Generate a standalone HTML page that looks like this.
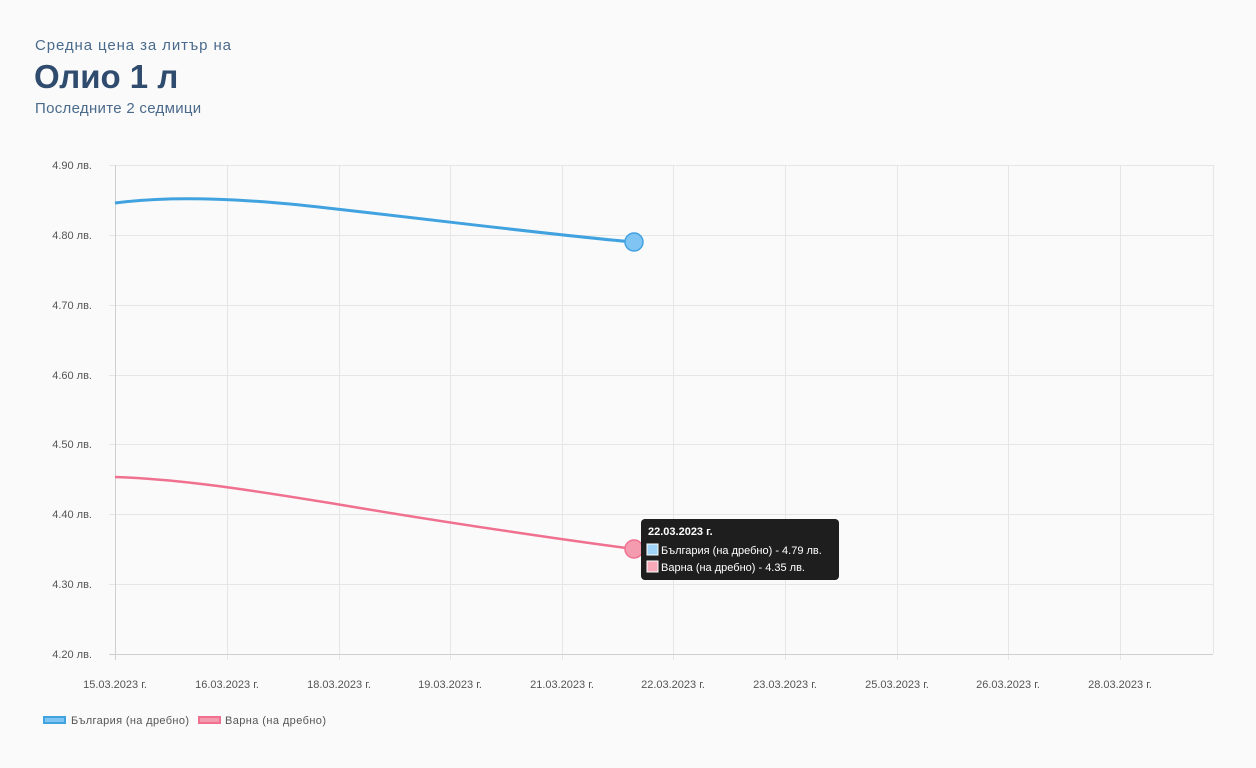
<!DOCTYPE html>
<html><head><meta charset="utf-8"><style>
body{margin:0;background:#fafafa;width:1256px;height:768px;overflow:hidden;font-family:"Liberation Sans","DejaVu Sans",sans-serif}
.h1{position:absolute;left:35px;top:37px;font-size:15px;letter-spacing:0.9px;color:#4a6a8c}
.h2{position:absolute;left:34px;top:58px;font-size:33px;font-weight:bold;color:#2f4b6e}
.h3{position:absolute;left:35px;top:100px;font-size:15px;letter-spacing:0.3px;color:#4a6a8c}
</style></head><body>
<div class="h1">Средна цена за литър на</div>
<div class="h2">Олио 1 л</div>
<div class="h3">Последните 2 седмици</div>
<svg width="1256" height="768" style="position:absolute;left:0;top:0" font-family="Liberation Sans, sans-serif">
<g stroke="#e6e6e6" stroke-width="1">
<line x1="109" y1="165.5" x2="1213" y2="165.5"/><line x1="109" y1="235.5" x2="1213" y2="235.5"/>
<line x1="109" y1="305.5" x2="1213" y2="305.5"/><line x1="109" y1="375.5" x2="1213" y2="375.5"/>
<line x1="109" y1="444.5" x2="1213" y2="444.5"/><line x1="109" y1="514.5" x2="1213" y2="514.5"/>
<line x1="109" y1="584.5" x2="1213" y2="584.5"/>
<line x1="227.5" y1="165" x2="227.5" y2="660"/><line x1="339.5" y1="165" x2="339.5" y2="660"/>
<line x1="450.5" y1="165" x2="450.5" y2="660"/><line x1="562.5" y1="165" x2="562.5" y2="660"/>
<line x1="673.5" y1="165" x2="673.5" y2="660"/><line x1="785.5" y1="165" x2="785.5" y2="660"/>
<line x1="897.5" y1="165" x2="897.5" y2="660"/><line x1="1008.5" y1="165" x2="1008.5" y2="660"/>
<line x1="1120.5" y1="165" x2="1120.5" y2="660"/><line x1="1213.5" y1="165" x2="1213.5" y2="654"/>
</g>
<line x1="115.5" y1="165" x2="115.5" y2="660" stroke="#cfcfcf"/>
<line x1="109" y1="654.5" x2="1213" y2="654.5" stroke="#cfcfcf"/>
<g font-size="11" fill="#555" text-anchor="end">
<text x="92" y="169">4.90 лв.</text><text x="92" y="239">4.80 лв.</text><text x="92" y="309">4.70 лв.</text>
<text x="92" y="379">4.60 лв.</text><text x="92" y="448">4.50 лв.</text><text x="92" y="518">4.40 лв.</text>
<text x="92" y="588">4.30 лв.</text><text x="92" y="658">4.20 лв.</text>
</g>
<g font-size="11" fill="#555" text-anchor="middle">
<text x="115" y="688">15.03.2023 г.</text><text x="227" y="688">16.03.2023 г.</text><text x="339" y="688">18.03.2023 г.</text>
<text x="450" y="688">19.03.2023 г.</text><text x="562" y="688">21.03.2023 г.</text><text x="673" y="688">22.03.2023 г.</text>
<text x="785" y="688">23.03.2023 г.</text><text x="897" y="688">25.03.2023 г.</text><text x="1008" y="688">26.03.2023 г.</text>
<text x="1120" y="688">28.03.2023 г.</text>
</g>
<path d="M115,203 C160,197 220,197 300,205 C420,218 560,236 634,242" fill="none" stroke="#41a2e0" stroke-width="3"/>
<path d="M115,477 C180,479 250,490 330,503 C460,525 580,542 634,549" fill="none" stroke="#f0708f" stroke-width="2.5"/>
<circle cx="634" cy="242" r="9" fill="#7fc4f2" stroke="#41a2e0" stroke-width="1.5"/>
<circle cx="634" cy="549" r="9" fill="#f59bb0" stroke="#f0708f" stroke-width="1.5"/>
<path d="M641,549 l6,-5 v10 z" fill="#1e1e1e"/>
<rect x="641" y="519" width="198" height="61" rx="4" fill="#1e1e1e"/>
<text x="648" y="535" font-size="11" font-weight="bold" fill="#fff">22.03.2023 г.</text>
<rect x="647" y="544" width="11" height="11" fill="#9fd3f7" stroke="#fff" stroke-width="1"/>
<text x="661" y="554" font-size="11" fill="#fff">България (на дребно) - 4.79 лв.</text>
<rect x="647" y="561" width="11" height="11" fill="#f7a9ba" stroke="#fff" stroke-width="1"/>
<text x="661" y="571" font-size="11" fill="#fff">Варна (на дребно) - 4.35 лв.</text>
<rect x="44" y="717" width="21" height="6" fill="#7fc4f2" stroke="#41a2e0" stroke-width="2"/>
<text x="71" y="724" font-size="11" fill="#555" textLength="118">България (на дребно)</text>
<rect x="199" y="717" width="21" height="6" fill="#f59bb0" stroke="#f0708f" stroke-width="2"/>
<text x="225" y="724" font-size="11" fill="#555" textLength="101">Варна (на дребно)</text>
</svg>
</body></html>
